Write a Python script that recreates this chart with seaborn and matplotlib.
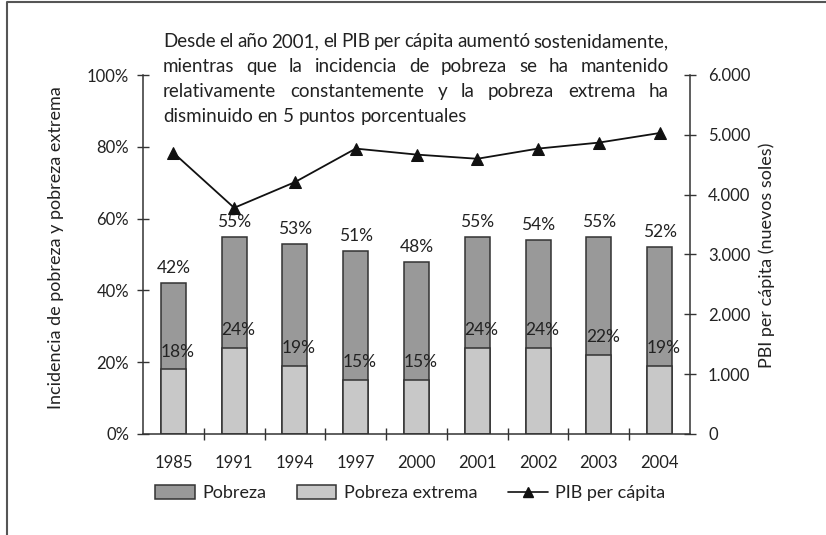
import numpy as np
import pandas as pd
import matplotlib
matplotlib.use("Agg")
import matplotlib.pyplot as plt
import seaborn as sns
from matplotlib.patches import Patch
from matplotlib.lines import Line2D
from matplotlib.ticker import FixedLocator, FuncFormatter

# ---- data ----
years = ["1985", "1991", "1994", "1997", "2000", "2001", "2002", "2003", "2004"]
pobreza = [42, 55, 53, 51, 48, 55, 54, 55, 52]
pobreza_extrema = [18, 24, 19, 15, 15, 24, 24, 22, 19]
pib = [4700, 3780, 4210, 4770, 4670, 4600, 4770, 4870, 5030]
left_ticks = [0, 20, 40, 60, 80, 100]
right_ticks = [0, 1000, 2000, 3000, 4000, 5000, 6000]
title_lines = [
    "Desde el año 2001, el PIB per cápita aumentó sostenidamente,",
    "mientras que la incidencia de pobreza se ha mantenido",
    "relativamente constantemente y la pobreza extrema ha",
    "disminuido en 5 puntos porcentuales",
]

sns.set_theme(style="white")
FONT = ["Lato", "DejaVu Sans"]
plt.rcParams["font.family"] = FONT
TXT = "#222222"

W, H = 826, 535
fig = plt.figure(figsize=(W / 100, H / 100), dpi=100)
ax = fig.add_axes([143 / W, 1 - 434 / H, (690 - 143) / W, (434 - 75) / H])

df = pd.DataFrame({"year": years, "pobreza": pobreza, "extrema": pobreza_extrema, "pib": pib})
dark, light, edge = "#999999", "#c8c8c8", "#333333"

sns.barplot(data=df, x="year", y="pobreza", color=dark, edgecolor=edge, linewidth=1.1,
            width=0.41, saturation=1, ax=ax)
sns.barplot(data=df, x="year", y="extrema", color=light, edgecolor=edge, linewidth=1.1,
            width=0.41, saturation=1, ax=ax)

n = len(years)
ax.set_xlim(-0.5, n - 0.5)
ax.set_ylim(0, 100)
ax.set_xlabel("")
ax.set_ylabel("")

# bar labels
for i, (p, e) in enumerate(zip(pobreza, pobreza_extrema)):
    ax.annotate(f"{p}%", (i, p), xytext=(0, 5), textcoords="offset points",
                ha="center", va="bottom", fontsize=12.5, color=TXT)
    ax.annotate(f"{e}%", (i, e), xytext=(3, 7), textcoords="offset points",
                ha="center", va="bottom", fontsize=12.5, color=TXT)

# axes styling
for s in ["top", "right"]:
    ax.spines[s].set_visible(False)
for s in ["left", "bottom"]:
    ax.spines[s].set_color(edge)
    ax.spines[s].set_linewidth(1.1)
ax.yaxis.set_major_locator(FixedLocator(left_ticks))
ax.yaxis.set_major_formatter(FuncFormatter(lambda v, p: f"{int(v)}%"))
ax.tick_params(axis="y", direction="inout", length=8, width=1, color=edge,
               labelsize=12, labelcolor=TXT, pad=6, left=True)
ax.xaxis.set_minor_locator(FixedLocator(np.arange(0.5, n - 1, 1.0)))
ax.tick_params(axis="x", which="major", length=0, labelsize=12, labelcolor=TXT, pad=15)
ax.tick_params(axis="x", which="minor", direction="inout", length=8, width=1, color=edge,
               bottom=True)

# line on twin axis
ax2 = ax.twinx()
sns.lineplot(x=np.arange(n), y=pib, marker="^", markersize=9, color="#111111",
             linewidth=1.3, markeredgecolor="#111111", ax=ax2)
ax2.set_ylim(0, 6000)
ax2.set_xlim(-0.5, n - 0.5)
ax2.yaxis.set_major_locator(FixedLocator(right_ticks))
ax2.yaxis.set_major_formatter(FuncFormatter(lambda v, p: f"{int(v):,}".replace(",", ".")))
ax2.tick_params(axis="y", direction="inout", length=8, width=1, color=edge,
                labelsize=12, labelcolor=TXT, pad=9, right=True)
for s in ["top", "left", "bottom"]:
    ax2.spines[s].set_visible(False)
ax2.spines["right"].set_color(edge)
ax2.spines["right"].set_linewidth(1.1)
ax2.set_ylabel("")

# axis titles
fig.text(56 / W, 1 - 248 / H, "Incidencia de pobreza y pobreza extrema", rotation=90,
         ha="center", va="center", fontsize=13, color=TXT)
fig.text(767 / W, 1 - 255 / H, "PBI per cápita (nuevos soles)", rotation=90,
         ha="center", va="center", fontsize=13, color=TXT)

# justified title paragraph
renderer = fig.canvas.get_renderer()
x0, x1 = 163, 669
baselines = [47, 72, 97, 122]
for k, (line, yb) in enumerate(zip(title_lines, baselines)):
    words = line.split(" ")
    ts = [fig.text(0, 1 - yb / H, w, fontsize=13.5, color=TXT, va="baseline", ha="left")
          for w in words]
    widths = [t.get_window_extent(renderer).width for t in ts]
    if k < len(title_lines) - 1:
        gap = (x1 - x0 - sum(widths)) / (len(words) - 1)
    else:
        sp = fig.text(0, 0, "a a", fontsize=13.5)
        sw = sp.get_window_extent(renderer).width
        sa = fig.text(0, 0, "aa", fontsize=13.5)
        gap = sw - sa.get_window_extent(renderer).width
        sp.remove(); sa.remove()
    x = x0
    for t, w in zip(ts, widths):
        t.set_x(x / W)
        x += w + gap

# legend
handles = [
    Patch(facecolor=dark, edgecolor=edge, linewidth=1.1, label="Pobreza"),
    Patch(facecolor=light, edgecolor=edge, linewidth=1.1, label="Pobreza extrema"),
    Line2D([], [], color="#111111", marker="^", markersize=7, linewidth=1.2,
           label="PIB per cápita"),
]
leg = fig.legend(handles=handles, loc="center", bbox_to_anchor=(410 / W, 1 - 493 / H),
                 ncol=3, frameon=False, fontsize=13, handlelength=2.2, handleheight=0.8,
                 columnspacing=1.7, handletextpad=0.4, labelcolor=TXT)

# outer frame (top and left edges)
fig.add_artist(Line2D([7 / W, 7 / W, 1.0], [0.0, 1 - 1.5 / H, 1 - 1.5 / H],
                      transform=fig.transFigure, color="#555555", linewidth=1.5))

fig.savefig("out.png", dpi=100)
